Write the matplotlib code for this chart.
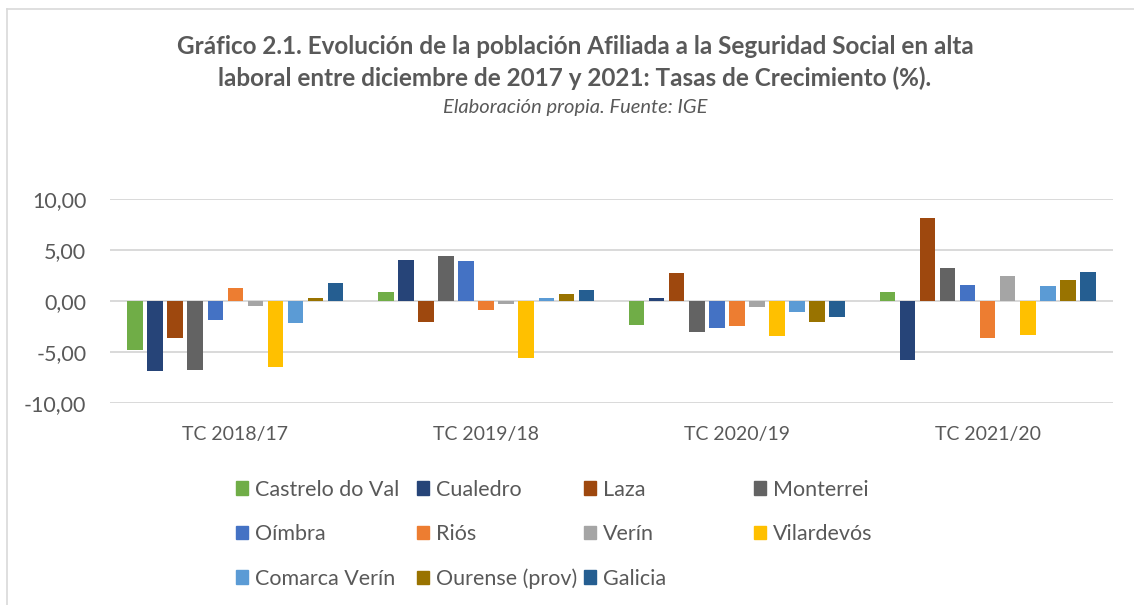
import numpy as np
import matplotlib
matplotlib.use("Agg")
import matplotlib.pyplot as plt
from matplotlib.patches import Patch
from matplotlib.lines import Line2D

# ---- datos (tasas de crecimiento, %) ----
periodos = ["TC 2018/17", "TC 2019/18", "TC 2020/19", "TC 2021/20"]
series = ["Castrelo do Val", "Cualedro", "Laza", "Monterrei", "Oímbra", "Riós",
          "Verín", "Vilardevós", "Comarca Verín", "Ourense (prov)", "Galicia"]
castrelo   = [-4.80, 0.85, -2.29, 0.88]
cualedro   = [-6.80, 4.00, 0.26, -5.72]
laza       = [-3.60, -2.06, 2.75, 8.10]
monterrei  = [-6.70, 4.45, -3.00, 3.20]
oimbra     = [-1.85, 3.95, -2.58, 1.54]
rios       = [1.30, -0.82, -2.45, -3.56]
verin      = [-0.45, -0.26, -0.59, 2.42]
vilardevos = [-6.40, -5.56, -3.46, -3.33]
comarca    = [-2.10, 0.26, -1.05, 1.47]
ourense    = [0.30, 0.69, -2.00, 2.06]
galicia    = [1.75, 1.14, -1.57, 2.84]
valores = [castrelo, cualedro, laza, monterrei, oimbra, rios, verin,
           vilardevos, comarca, ourense, galicia]

colores = ["#70AD47", "#264478", "#9E480E", "#636363", "#4472C4", "#ED7D31",
           "#A5A5A5", "#FFC000", "#5B9BD5", "#997300", "#255E91"]

GRIS_TXT = "#595959"
GRID = "#D9D9D9"
FUENTE = "Lato"

plt.rcParams["font.family"] = [FUENTE, "DejaVu Sans"]

W, H = 1134, 605
fig = plt.figure(figsize=(W / 100, H / 100), dpi=100)
fig.patch.set_facecolor("white")

# marco gris claro del gráfico (recortado a la derecha/abajo)
fig.add_artist(Line2D([7 / W, 1], [1 - 9 / H] * 2, color=GRID, lw=1.2))
fig.add_artist(Line2D([7 / W] * 2, [0, 1 - 9 / H], color=GRID, lw=1.2))

ax = fig.add_axes([110 / W, 1 - 403.3 / H, (1113 - 110) / W, (403.3 - 199) / H])

x = np.arange(len(periodos))
paso = 0.08
ancho = 0.062
n = len(series)
for i, (nom, vals, col) in enumerate(zip(series, valores, colores)):
    ax.bar(x + (i - (n - 1) / 2) * paso, vals, width=ancho, color=col,
           label=nom, zorder=3)

ax.set_xlim(-0.5, len(periodos) - 0.5)
ax.set_ylim(-10, 10)
ax.set_yticks([-10, -5, 0, 5, 10])
ax.set_yticklabels([f"{v:.2f}".replace(".", ",") for v in [-10, -5, 0, 5, 10]])
ax.set_xticks(x)
ax.set_xticklabels(periodos)
ax.grid(axis="y", color=GRID, lw=1.4, zorder=0)
for sp in ax.spines.values():
    sp.set_visible(False)
ax.tick_params(axis="y", length=0, pad=17, labelsize=15.5, labelcolor=GRIS_TXT)
ax.tick_params(axis="x", length=0, pad=16, labelsize=14, labelcolor=GRIS_TXT)

# título
fig.text(575 / W, 1 - 47 / H,
         "Gráfico 2.1. Evolución de la población Afiliada a la Seguridad Social en alta",
         ha="center", va="center", fontsize=17.5, fontweight="bold", color=GRIS_TXT)
fig.text(575 / W, 1 - 78 / H,
         "laboral entre diciembre de 2017 y 2021: Tasas de Crecimiento (%).",
         ha="center", va="center", fontsize=17.5, fontweight="bold", color=GRIS_TXT)
fig.text(575 / W, 1 - 108 / H, "Elaboración propia. Fuente: IGE",
         ha="center", va="center", fontsize=14.5, style="italic", color=GRIS_TXT)

# leyenda: 4 columnas, orden por filas como en Excel
handles = [Patch(color=c, label=s) for s, c in zip(series, colores)]
col_x = [236, 417, 584, 754]
for j, cx in enumerate(col_x):
    hs = handles[j::4]
    leg = fig.legend(handles=hs, loc="upper left",
                     bbox_to_anchor=(cx / W, 1 - 479.5 / H),
                     frameon=False, fontsize=15.5, borderpad=0, borderaxespad=0,
                     handlelength=0.58, handleheight=0.58, handletextpad=0.3,
                     labelspacing=1.14, labelcolor=GRIS_TXT)

fig.savefig("out.png", dpi=100, facecolor="white")
